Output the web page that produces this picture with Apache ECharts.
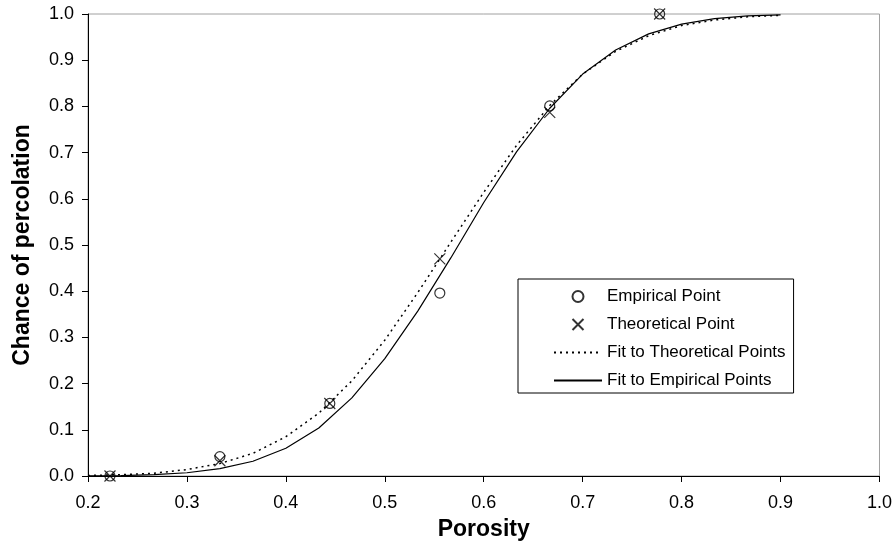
<!DOCTYPE html>
<html>
<head>
<meta charset="utf-8">
<script src="https://cdn.jsdelivr.net/npm/echarts@6/dist/echarts.min.js"></script>
<style>html,body{margin:0;padding:0;background:#fff}#c{width:895px;height:547px}</style>
</head>
<body>
<div id="c"></div>
<script>
// Data
const pointX = [0.2222, 0.3333, 0.4444, 0.5556, 0.6667, 0.7778];
const empiricalY = [0.0, 0.042, 0.157, 0.396, 0.801, 1.0];
const theoreticalY = [0.0, 0.033, 0.157, 0.470, 0.787, 1.0];
const fitX = [0.2000, 0.2333, 0.2667, 0.3000, 0.3333, 0.3667, 0.4000, 0.4333, 0.4667, 0.5000, 0.5333,
              0.5667, 0.6000, 0.6333, 0.6667, 0.7000, 0.7333, 0.7667, 0.8000, 0.8333, 0.8667, 0.9000];
const fitTheoreticalY = [0.001, 0.003, 0.006, 0.014, 0.027, 0.049, 0.085, 0.136, 0.206, 0.294, 0.397,
                         0.506, 0.614, 0.716, 0.802, 0.870, 0.919, 0.953, 0.975, 0.987, 0.994, 0.997];
const fitEmpiricalY = [0.0004, 0.001, 0.003, 0.007, 0.016, 0.032, 0.060, 0.104, 0.169, 0.254, 0.357,
                       0.472, 0.592, 0.702, 0.796, 0.870, 0.922, 0.957, 0.978, 0.990, 0.996, 0.998];
const xTicks = [0.2, 0.3, 0.4, 0.5, 0.6, 0.7, 0.8, 0.9, 1.0];
const yTicks = [0.0, 0.1, 0.2, 0.3, 0.4, 0.5, 0.6, 0.7, 0.8, 0.9, 1.0];

const zip = (a, b) => a.map((v, i) => [v, b[i]]);
const FONT = '"Liberation Sans", Arial, sans-serif';
const crossPath = 'path://M0,0L10,10M10,0L0,10';

const chart = echarts.init(document.getElementById('c'), null, {renderer: 'canvas'});
chart.setOption({
  animation: false,
  backgroundColor: '#ffffff',
  textStyle: {fontFamily: FONT},
  grid: {left: 88, right: 15, top: 14, bottom: 71, show: true, borderColor: '#a0a0a0', borderWidth: 1},
  xAxis: {
    type: 'value', min: xTicks[0], max: xTicks[xTicks.length - 1], interval: 0.1,
    name: 'Porosity', nameLocation: 'middle', nameGap: 42,
    nameTextStyle: {fontFamily: FONT, fontSize: 23, fontWeight: 'bold', color: '#000'},
    axisLine: {lineStyle: {color: '#000', width: 1}},
    axisTick: {inside: false, length: 6, lineStyle: {color: '#000'}},
    axisLabel: {margin: 18, fontFamily: FONT, fontSize: 18, color: '#000', formatter: v => v.toFixed(1)},
    splitLine: {show: false}
  },
  yAxis: {
    type: 'value', min: yTicks[0], max: yTicks[yTicks.length - 1], interval: 0.1,
    name: 'Chance of percolation', nameLocation: 'middle', nameGap: 54, nameRotate: 90,
    nameTextStyle: {fontFamily: FONT, fontSize: 23, fontWeight: 'bold', color: '#000'},
    axisLine: {show: true, lineStyle: {color: '#000', width: 1}},
    axisTick: {show: true, inside: false, length: 6, lineStyle: {color: '#000'}},
    axisLabel: {margin: 14, fontFamily: FONT, fontSize: 18, color: '#000', formatter: v => v.toFixed(1)},
    splitLine: {show: false}
  },
  legend: {
    orient: 'vertical', left: 518, top: 279,
    backgroundColor: '#fff', borderColor: '#000', borderWidth: 1,
    padding: [9, 8, 4, 35],
    itemWidth: 48, itemHeight: 11, itemGap: 11,
    textStyle: {fontFamily: FONT, fontSize: 17, lineHeight: 14, color: '#000'},
    data: [
      {name: 'Empirical Point'},
      {name: 'Theoretical Point'},
      {name: 'Fit to Theoretical Points', itemStyle: {opacity: 0}},
      {name: 'Fit to Empirical Points', itemStyle: {opacity: 0}}
    ]
  },
  series: [
    {
      name: 'Fit to Theoretical Points', type: 'line', data: zip(fitX, fitTheoreticalY),
      symbol: 'none', smooth: false,
      lineStyle: {color: '#000', width: 1.5, type: [2, 4]}, itemStyle: {color: '#000'}
    },
    {
      name: 'Fit to Empirical Points', type: 'line', data: zip(fitX, fitEmpiricalY),
      symbol: 'none', smooth: false,
      lineStyle: {color: '#000', width: 1.2, type: 'solid'}, itemStyle: {color: '#000'}
    },
    {
      name: 'Empirical Point', type: 'scatter', data: zip(pointX, empiricalY),
      symbol: 'circle', symbolSize: 10,
      itemStyle: {color: 'rgba(0,0,0,0)', borderColor: '#000', borderWidth: 1.2}
    },
    {
      name: 'Theoretical Point', type: 'scatter', data: zip(pointX, theoreticalY),
      symbol: crossPath, symbolSize: 11,
      itemStyle: {color: 'rgba(0,0,0,0)', borderColor: '#000', borderWidth: 1.2}
    }
  ]
});
</script>
</body>
</html>
